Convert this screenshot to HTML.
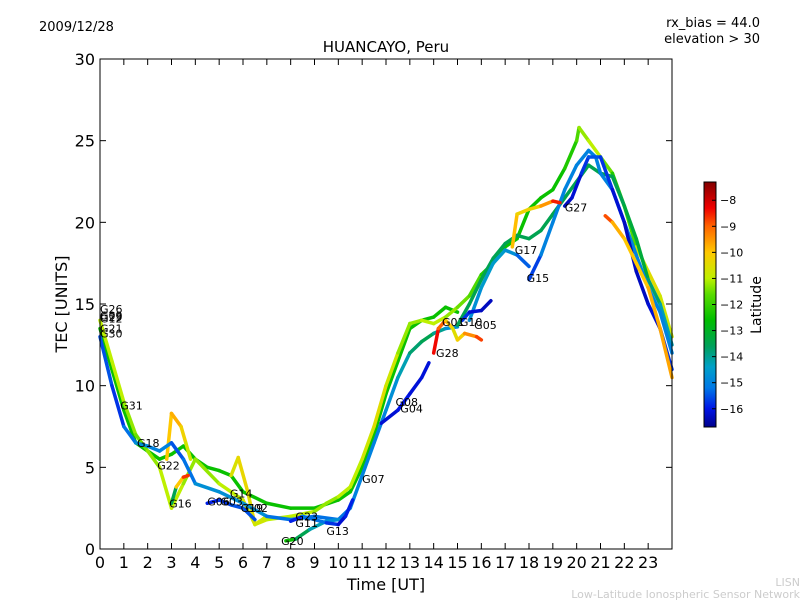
<!DOCTYPE html>
<html><head><meta charset="utf-8"><style>
body{margin:0;background:#fff;font-family:"Liberation Sans","DejaVu Sans",sans-serif}
svg text{font-family:"DejaVu Sans","Liberation Sans",sans-serif}
</style></head><body>
<svg id="c" width="800" height="600" xmlns="http://www.w3.org/2000/svg">
<defs><linearGradient id="jet" x1="0" y1="1" x2="0" y2="0"></linearGradient></defs>
<text x="39" y="31" font-size="13">2009/12/28</text>
<text x="760" y="27" font-size="13" text-anchor="end">rx_bias = 44.0</text>
<text x="760" y="43" font-size="13" text-anchor="end">elevation &gt; 30</text>
<text x="386" y="52" font-size="15" text-anchor="middle">HUANCAYO, Peru</text>
<g id="marks"></g>
<g id="labels"></g>
<rect x="100" y="59" width="572" height="490" fill="none" stroke="#000" stroke-width="1"/>
<g id="axes"></g>
<text x="386" y="590" font-size="16" text-anchor="middle">Time [UT]</text>
<text x="67" y="304" font-size="16" text-anchor="middle" transform="rotate(-90 67 304)">TEC [UNITS]</text>
<rect x="704" y="182" width="12" height="245" fill="url(#jet)" stroke="#000" stroke-width="1"/>
<g id="cbar"></g>
<text x="761" y="305" font-size="14" text-anchor="middle" transform="rotate(-90 761 305)">Latitude</text>
<text x="800" y="586" font-size="11" fill="#ccc" text-anchor="end">LISN</text>
<text x="800" y="598" font-size="11" fill="#ccc" text-anchor="end">Low-Latitude Ionospheric Sensor Network</text>
</svg>
<script>
const xTicks=[0,1,2,3,4,5,6,7,8,9,10,11,12,13,14,15,16,17,18,19,20,21,22,23];
const yTicks=[0,5,10,15,20,25,30];
const cbTicks=[-8,-9,-10,-11,-12,-13,-14,-15,-16];
const latMin=-16.7, latMax=-7.3;
// each trace: [hour, TEC, latitude]
const trA=[[0,13.5,-12.5],[0.5,11,-12.5],[1,8.5,-12.5],[1.5,6.5,-12.5],[2,6,-12.5],[2.5,5.5,-12.5],[3,5.8,-12.5],[3.5,6.3,-12.5],[4,5.5,-12.5],[4.5,5,-12.5],[5,4.8,-12.5],[5.5,4.5,-12.5],[6,3.5,-12.5],[7,2.8,-12.5],[8,2.5,-12.5],[9,2.5,-12.5],[10,3,-12.5],[10.5,3.5,-12.5],[11,5,-12.5],[11.5,7,-12.5],[12,9.5,-12.5],[12.5,11.5,-12.5],[13,13.5,-12.5],[13.5,14,-12.5],[14,14.2,-12.5],[14.5,14.8,-12.5],[15,14.5,-12.5]];
const trB=[[0,14,-11],[0.5,11.5,-11],[1,9,-11],[1.5,7,-11.5],[2,6,-11.5],[2.5,5,-11],[3,2.5,-11],[3.5,4,-11],[4,5.5,-11.5],[5,4,-11],[6,3,-11],[6.5,1.5,-10.5],[7,1.8,-11],[8,2,-11],[9,2.3,-11],[9.5,2.8,-11.5],[10,3.2,-11],[10.5,3.8,-11],[11,5.5,-11],[11.5,7.5,-10.5],[12,10,-10.5],[12.5,12,-11],[13,13.8,-11.5],[13.5,14,-11],[14,13.8,-11],[14.5,14.2,-11],[15,14.8,-11.5],[15.5,15.5,-11.5],[16,16.8,-12],[16.5,17.5,-12.5],[17,18.5,-12.5],[17.5,19,-12.5],[18,20.8,-12.5],[18.5,21.5,-12.5],[19,22,-12.5],[19.5,23.3,-12.5],[20,25,-12],[20.1,25.8,-11.5],[20.5,25,-11],[21,24,-11],[21.5,23,-12],[22,21,-12.5],[22.5,18.5,-11],[23,17,-10.5],[23.5,15.5,-10.5],[24,13,-11]];
const trC=[[2.8,5.5,-10.5],[3,8.3,-9.5],[3.4,7.5,-10],[3.6,6.5,-10.5],[3.8,5.5,-11]];
const trD=[[5.5,4.5,-11],[5.8,5.6,-10.2],[6.2,3.5,-10.5],[6.5,1.5,-10.5],[7,2,-11]];
const trE=[[0,13,-15.5],[0.5,10,-15.5],[1,7.5,-16],[1.5,6.5,-14.5],[2,6.3,-15],[2.5,6,-15],[3,6.5,-15],[3.5,5.5,-16],[4,4,-14.5],[5,3.5,-15],[6,2.8,-14.5],[7,2,-15],[8,1.8,-15.5],[9,2,-15],[10,1.8,-15.5],[10.5,2.5,-15],[11,4.5,-15],[11.5,6.5,-15],[12,8.5,-15],[12.5,10.5,-14.5],[13,12,-14],[13.5,12.7,-13.5],[14,13.2,-13.5],[14.5,13.5,-14.5],[15,13.6,-15]];
const trF=[[15,13.7,-13.5],[15.5,15,-13.5],[16,16.5,-13.5],[16.5,17.8,-13.5],[17,18.7,-13.5],[17.5,19.2,-13.5],[18,19,-13.5],[18.5,19.5,-13.5],[19,20.5,-13.5],[19.5,21.5,-13.5],[20,22.5,-13.5],[20.5,23.5,-13.5],[21,23,-13.5],[21.5,22.8,-13.5],[22,21,-13.5],[22.5,19,-13],[23,16.5,-13.5],[23.5,15,-14],[24,12.5,-14.5]];
const trG=[[15.5,14,-15],[16,16,-14.5],[16.5,17.5,-14.5],[17,18.3,-14.5],[17.5,18,-15],[18,17.3,-15.8]];
const trH=[[18,16.5,-16.3],[18.5,18,-15],[19,20,-15],[19.5,22,-15],[20,23.5,-15],[20.5,24.4,-15],[20.8,24,-15],[21,23,-15],[21.5,22,-15],[22,20,-15],[22.5,18,-15],[23,16,-15],[23.5,14.5,-15],[24,12,-15]];
const trI=[[19.5,21,-16.3],[19.8,21.5,-16.3],[20.2,23,-16],[20.5,24,-15.5],[21,24,-15.5],[21.5,22,-16],[22,20,-16.3],[22.5,17,-16.3],[23,15,-16.3],[23.5,13.5,-16],[24,11,-15.5]];
const trJ=[[14,12,-8.2],[14.2,13.5,-8.5],[14.5,14,-9.5],[14.8,13.5,-10.5],[15,12.8,-10.5],[15.3,13.2,-9.8],[15.8,13,-9],[16,12.8,-8.5]];
const trK=[[17.3,18.5,-9.8],[17.5,20.5,-10],[18,20.8,-10.5],[18.5,21,-10],[19,21.3,-9],[19.3,21.2,-8]];
const trL=[[21.2,20.4,-8.2],[21.5,20,-9.5],[22,19,-10],[22.5,17.5,-10],[23,16,-10],[23.5,13.5,-9.5],[24,10.5,-9.8]];
const trM=[[11.8,7.7,-16.3],[12.5,8.5,-16],[13,9.5,-16],[13.5,10.5,-16.2],[13.8,11.4,-16]];
const trN=[[15.2,14,-15.5],[15.5,14.5,-16],[16,14.6,-16.3],[16.4,15.2,-16.3]];
const trO=[[4.5,2.8,-16.3],[5,3,-15.5],[5.5,2.7,-16],[6,2.5,-15],[6.5,1.8,-16]];
const trP=[[7.8,0.5,-12],[8.2,0.6,-13],[8.8,1.2,-14],[9.5,1.7,-14.5],[10,1.8,-15]];
const trQ=[[8,1.7,-16.3],[8.5,2,-15.5],[9,1.8,-15],[9.5,1.6,-15.5],[10,1.5,-16],[10.3,2,-16.3],[10.6,3,-15.5]];
const trR=[[3,2.8,-16],[3.2,3.8,-11],[3.5,4.4,-9],[3.7,4.5,-8.3]];
const traces=[trA,trB,trC,trD,trE,trF,trG,trH,trI,trJ,trK,trL,trM,trN,trO,trP,trQ,trR];
const labelNames=["G26","G09","G29","G12","G21","G30","G31","G18","G22","G16","G06","G03","G14","G19","G02","G23","G11","G13","G20","G07","G08","G04","G01","G10","G05","G28","G17","G15","G27"];
const labelX=[0,0,0,0,0,0,0.85,1.55,2.4,2.9,4.5,5.05,5.45,5.9,6.1,8.2,8.2,9.5,7.6,11.0,12.4,12.6,14.35,15.1,15.7,14.1,17.4,17.9,19.5];
const labelY=[14.7,14.3,14.2,14.1,13.5,13.2,8.8,6.5,5.1,2.8,2.9,2.9,3.4,2.5,2.5,2.0,1.6,1.1,0.5,4.3,9.0,8.6,13.9,13.9,13.7,12.0,18.3,16.6,20.9];

// colour stops (latitude -> rgb) shared by traces and colorbar
const stopLat=[-16.7,-16.0,-15.2,-14.4,-13.6,-12.6,-11.6,-11.0,-10.0,-9.0,-8.3,-7.3];
const stopRGB=[[0,0,140],[0,20,230],[0,120,230],[0,160,200],[0,160,90],[0,190,0],[90,220,0],[190,240,0],[255,200,0],[255,100,0],[240,0,0],[130,0,0]];
const NS="http://www.w3.org/2000/svg";
const X=h=>100+h*572/24, Y=v=>549-v*490/30;
function latColor(l){
 if(l<=stopLat[0])return `rgb(${stopRGB[0]})`;
 for(let i=0;i<stopLat.length-1;i++){
  if(l<=stopLat[i+1]){const f=(l-stopLat[i])/(stopLat[i+1]-stopLat[i]);
   const c=stopRGB[i].map((v,k)=>Math.round(v+(stopRGB[i+1][k]-v)*f));return `rgb(${c})`;}
 }
 return `rgb(${stopRGB[stopRGB.length-1]})`;
}
function mk(tag,attrs,parent){const e=document.createElementNS(NS,tag);for(const k in attrs)e.setAttribute(k,attrs[k]);parent.appendChild(e);return e;}
const grad=document.getElementById('jet');
stopLat.forEach((l,i)=>{mk('stop',{offset:(l-latMin)/(latMax-latMin),'stop-color':`rgb(${stopRGB[i]})`},grad);});
const marks=document.getElementById('marks');
traces.forEach((tr,ti)=>{
 for(let i=0;i<tr.length-1;i++){
  const seg=mk('line',{x1:X(tr[i][0]),y1:Y(tr[i][1]),x2:X(tr[i+1][0]),y2:Y(tr[i+1][1]),stroke:latColor((tr[i][2]+tr[i+1][2])/2),'stroke-width':3.5,'stroke-linecap':'round'},marks);
  
  
 }
});
const lg=document.getElementById('labels');
labelNames.forEach((n,i)=>{
 const t=mk('text',{x:X(labelX[i]),y:Y(labelY[i])+4,'font-size':11},lg);
 t.textContent=n;
 
 
});
const ax=document.getElementById('axes');
xTicks.forEach(v=>{
 const x=X(v);
 const a=mk('line',{x1:x,y1:549,x2:x,y2:543,stroke:'#000'},ax);
 
 
 mk('line',{x1:x,y1:59,x2:x,y2:65,stroke:'#000'},ax);
 const t=mk('text',{x:x,y:568,'font-size':16,'text-anchor':'middle'},ax);
 t.textContent=v;
 
 
});
yTicks.forEach(v=>{
 const y=Y(v);
 const a=mk('line',{x1:100,y1:y,x2:106,y2:y,stroke:'#000'},ax);
 
 
 mk('line',{x1:672,y1:y,x2:666,y2:y,stroke:'#000'},ax);
 const t=mk('text',{x:95,y:y+6,'font-size':16,'text-anchor':'end'},ax);
 t.textContent=v;
 
 
});
const cb=document.getElementById('cbar');
cbTicks.forEach(v=>{
 const y=427-(v-latMin)/(latMax-latMin)*245;
 mk('line',{x1:712,y1:y,x2:716,y2:y,stroke:'#000'},cb);
 const t=mk('text',{x:720,y:y+4,'font-size':11},cb);
 t.textContent='\u2212'+Math.abs(v);
 
 
});
</script>
</body></html>
